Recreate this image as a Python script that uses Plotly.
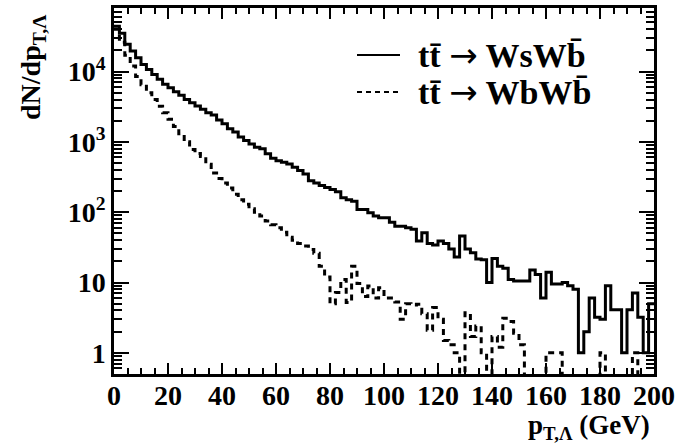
import numpy as np
import plotly.graph_objects as go

# bin lower edges (GeV), 2 GeV bins
bin_edges = list(range(0, 202, 2))

# t tbar -> W s W bbar (solid)
ws_values = [
    44000, 35000, 24500, 19500, 15700, 12600, 10700, 9100, 7750, 6600,
    5900, 5150, 4600, 4000, 3600, 3230, 2900, 2600, 2400, 2050,
    1810, 1530, 1375, 1170, 1045, 935, 840, 795, 675, 585,
    540, 513, 485, 435, 390, 349, 280, 260, 240, 225,
    210, 195, 160, 150, 143, 109, 109, 98, 88, 83,
    83, 72, 63, 63, 60, 57, 39, 51, 36, 34,
    39, 36, 30, 23, 46, 30, 26.5, 21.5, 21, 10,
    22, 17, 16, 11, 10.5, 10.5, 10.5, 15, 13, 6,
    14, 9.5, 9.5, 10, 9, 8, 1, 2, 6, 3.2,
    3, 9, 4.1, 4.1, 1, 4.1, 7.1, 3.2, 1, 5,
]

# t tbar -> W b W bbar (dashed)
wb_values = [
    40000, 26000, 17000, 12000, 8500, 6500, 5000, 4000, 3200, 2600,
    2100, 1650, 1300, 1000, 780, 680, 620, 480, 360, 300,
    260, 220, 180, 150, 130, 112, 100, 88, 75, 66,
    60, 52, 44, 40, 36, 33, 29.5, 26, 17, 12,
    5, 7.2, 11, 5.2, 17, 9.7, 6.3, 8.9, 6.0, 8.4,
    6.0, 6.0, 5.3, 3.0, 5.0, 4.8, 4.9, 3.6, 2.1, 4.4,
    3.0, 1.5, 1.3, 1, 0, 3.7, 1.7, 2.4, 1.0, 0,
    1.7, 1.2, 3.1, 2.8, 1.9, 1.3, 0, 0, 0, 0,
    1, 1, 1, 0, 0, 0, 0, 0, 0, 0,
    1, 0, 0, 0, 0, 0, 1, 0, 0, 0,
]

y_tick_vals = [1, 10, 100, 1000, 10000]
y_tick_text = ["1", "10", "10<sup>2</sup>", "10<sup>3</sup>", "10<sup>4</sup>"]

ARROW = '<span style="font-family:DejaVu Sans;font-weight:normal">\u2192</span>'
legend_labels = ["tt\u0304 " + ARROW + " WsWb\u0304", "tt\u0304 " + ARROW + " WbWb\u0304"]

FONT = "Liberation Serif"


def step_xy(values):
    vals = [v if v > 0 else 0.05 for v in values]
    return bin_edges, vals + [vals[-1]]


fig = go.Figure()
xs, ys = step_xy(ws_values)
fig.add_trace(go.Scatter(x=xs, y=ys, mode="lines", line=dict(shape="hv", color="black", width=3),
                         showlegend=False, hoverinfo="skip"))
xs, ys = step_xy(wb_values)
fig.add_trace(go.Scatter(x=xs, y=ys, mode="lines", line=dict(shape="hv", color="black", width=3, dash="6px,5px"),
                         showlegend=False, hoverinfo="skip"))

minor_y = []
for n in range(-1, 5):
    for k in range(2, 10):
        v = k * 10 ** n
        if 0.5 <= v <= 80000:
            minor_y.append(v)

L, R, T, B = 114, 21, 8, 70
W, H = 675, 444
pw, ph = W - L - R, H - T - B


def px(xp):
    return (xp - L) / pw


def py(yp):
    return (H - B - yp) / ph


fig.update_layout(
    width=W, height=H,
    margin=dict(l=L, r=R, t=T, b=B, pad=0, autoexpand=False),
    paper_bgcolor="white", plot_bgcolor="white",
    font=dict(family=FONT, color="black", size=28, weight="bold"),
    xaxis=dict(range=[0, 200], tickmode="linear", tick0=0, dtick=20, automargin=False,
               ticks="inside", ticklen=11, tickwidth=2, tickcolor="black",
               showline=True, linewidth=2.5, linecolor="black", mirror="ticks",
               showgrid=False, zeroline=False, ticklabelstandoff=-5,
               tickfont=dict(family=FONT, size=28, weight="bold", color="black"),
               minor=dict(dtick=5, tick0=0, ticks="inside", ticklen=6, tickwidth=2, tickcolor="black", showgrid=False)),
    yaxis=dict(type="log", range=[np.log10(0.5), np.log10(80000)], automargin=False,
               tickmode="array", tickvals=y_tick_vals, ticktext=y_tick_text,
               ticks="inside", ticklen=15, tickwidth=2, tickcolor="black",
               showline=True, linewidth=2.5, linecolor="black", mirror="ticks",
               showgrid=False, zeroline=False,
               tickfont=dict(family=FONT, size=28, weight="bold", color="black"),
               minor=dict(tickmode="array", tickvals=minor_y, ticks="inside", ticklen=8, tickwidth=2,
                          tickcolor="black", showgrid=False)),
    showlegend=False,
)

# axis titles
fig.add_annotation(text="dN/dp<sub>T,\u039b</sub>", xref="paper", yref="paper",
                   x=px(33), y=py(68), textangle=-90, showarrow=False,
                   xanchor="center", yanchor="middle",
                   font=dict(family=FONT, size=28, weight="bold", color="black"))
fig.add_annotation(text="p<sub>T,\u039b</sub> (GeV)", xref="paper", yref="paper",
                   x=px(652), y=py(427), showarrow=False,
                   xanchor="right", yanchor="middle",
                   font=dict(family=FONT, size=27, weight="bold", color="black"))

# legend
leg_rows = [55, 92]
dashes = ["solid", "5px,4px"]
for i, (lab, yr) in enumerate(zip(legend_labels, leg_rows)):
    fig.add_shape(type="line", xref="paper", yref="paper", x0=px(357), x1=px(400), y0=py(yr), y1=py(yr),
                  line=dict(color="black", width=2, dash=dashes[i]))
    fig.add_annotation(text=lab, xref="paper", yref="paper", x=px(416), y=py(yr), showarrow=False,
                       xanchor="left", yanchor="middle",
                       font=dict(family=FONT, size=34, weight="bold", color="black"))

fig.write_html("out.html")
